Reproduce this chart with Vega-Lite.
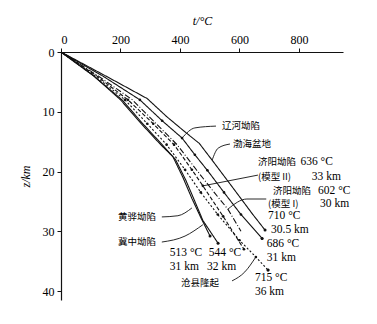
{
  "$schema": "https://vega.github.io/schema/vega-lite/v6.json",
  "autosize": {"type": "none"},
  "padding": {"left": 61, "top": 52, "right": 34, "bottom": 24},
  "width": 282,
  "height": 248,
  "background": "white",
  "config": {
    "view": {"stroke": null},
    "font": "Liberation Serif",
    "axis": {"grid": false, "domainColor": "#111", "tickColor": "#111", "labelColor": "#000", "titleColor": "#000", "labelFont": "Liberation Serif", "titleFont": "Liberation Serif", "labelFontSize": 12, "titleFontSize": 12, "titleFontWeight": "normal", "domainWidth": 1.2, "tickSize": 4}
  },
  "datasets": {
    "curves": [
      {"s": "渤海盆地", "t": 0, "z": 0}, {"s": "渤海盆地", "t": 150, "z": 4}, {"s": "渤海盆地", "t": 290, "z": 7.8}, {"s": "渤海盆地", "t": 355, "z": 10.8}, {"s": "渤海盆地", "t": 420, "z": 13.5}, {"s": "渤海盆地", "t": 465, "z": 15.3}, {"s": "渤海盆地", "t": 508, "z": 18.1}, {"s": "渤海盆地", "t": 570, "z": 22.2}, {"s": "渤海盆地", "t": 645, "z": 27.2}, {"s": "渤海盆地", "t": 686, "z": 29.8},
      {"s": "辽河坳陷", "t": 0, "z": 0}, {"s": "辽河坳陷", "t": 140, "z": 4}, {"s": "辽河坳陷", "t": 265, "z": 8}, {"s": "辽河坳陷", "t": 340, "z": 11.5}, {"s": "辽河坳陷", "t": 407, "z": 14.4}, {"s": "辽河坳陷", "t": 450, "z": 17.2}, {"s": "辽河坳陷", "t": 492, "z": 19.8}, {"s": "辽河坳陷", "t": 548, "z": 23.5}, {"s": "辽河坳陷", "t": 605, "z": 27.2}, {"s": "辽河坳陷", "t": 676, "z": 31.2},
      {"s": "济阳坳陷(模型I)", "t": 0, "z": 0}, {"s": "济阳坳陷(模型I)", "t": 125, "z": 4}, {"s": "济阳坳陷(模型I)", "t": 240, "z": 8}, {"s": "济阳坳陷(模型I)", "t": 320, "z": 12}, {"s": "济阳坳陷(模型I)", "t": 390, "z": 15.5}, {"s": "济阳坳陷(模型I)", "t": 455, "z": 19.7}, {"s": "济阳坳陷(模型I)", "t": 515, "z": 23.5}, {"s": "济阳坳陷(模型I)", "t": 561, "z": 26.3}, {"s": "济阳坳陷(模型I)", "t": 605, "z": 30},
      {"s": "济阳坳陷(模型II)", "t": 0, "z": 0}, {"s": "济阳坳陷(模型II)", "t": 120, "z": 4}, {"s": "济阳坳陷(模型II)", "t": 225, "z": 8}, {"s": "济阳坳陷(模型II)", "t": 310, "z": 12}, {"s": "济阳坳陷(模型II)", "t": 380, "z": 15.5}, {"s": "济阳坳陷(模型II)", "t": 440, "z": 19.7}, {"s": "济阳坳陷(模型II)", "t": 477, "z": 22.4}, {"s": "济阳坳陷(模型II)", "t": 545, "z": 27.5}, {"s": "济阳坳陷(模型II)", "t": 615, "z": 33},
      {"s": "沧县隆起", "t": 0, "z": 0}, {"s": "沧县隆起", "t": 115, "z": 4}, {"s": "沧县隆起", "t": 215, "z": 8}, {"s": "沧县隆起", "t": 290, "z": 12}, {"s": "沧县隆起", "t": 355, "z": 15.5}, {"s": "沧县隆起", "t": 417, "z": 19.7}, {"s": "沧县隆起", "t": 470, "z": 23.5}, {"s": "沧县隆起", "t": 527, "z": 27.2}, {"s": "沧县隆起", "t": 600, "z": 31.5}, {"s": "沧县隆起", "t": 655, "z": 34.3}, {"s": "沧县隆起", "t": 696, "z": 36.5},
      {"s": "黄骅坳陷", "t": 0, "z": 0}, {"s": "黄骅坳陷", "t": 110, "z": 4}, {"s": "黄骅坳陷", "t": 200, "z": 8}, {"s": "黄骅坳陷", "t": 270, "z": 12}, {"s": "黄骅坳陷", "t": 335, "z": 15.5}, {"s": "黄骅坳陷", "t": 376, "z": 17.5}, {"s": "黄骅坳陷", "t": 410, "z": 21}, {"s": "黄骅坳陷", "t": 440, "z": 24.5}, {"s": "黄骅坳陷", "t": 470, "z": 27.7}, {"s": "黄骅坳陷", "t": 501, "z": 30.8},
      {"s": "冀中坳陷", "t": 0, "z": 0}, {"s": "冀中坳陷", "t": 110, "z": 4}, {"s": "冀中坳陷", "t": 205, "z": 8}, {"s": "冀中坳陷", "t": 275, "z": 12}, {"s": "冀中坳陷", "t": 340, "z": 15.5}, {"s": "冀中坳陷", "t": 385, "z": 18}, {"s": "冀中坳陷", "t": 420, "z": 21.5}, {"s": "冀中坳陷", "t": 450, "z": 25}, {"s": "冀中坳陷", "t": 477, "z": 28.2}, {"s": "冀中坳陷", "t": 528, "z": 32}
    ],
    "ends": [
      {"s": "渤海盆地", "t": 686, "z": 29.8},
      {"s": "辽河坳陷", "t": 676, "z": 31.2},
      {"s": "沧县隆起", "t": 696, "z": 36.5},
      {"s": "冀中坳陷", "t": 528, "z": 32},
      {"s": "黄骅坳陷", "t": 501, "z": 30.8}
    ],
    "leaders": [
      {"id": "a", "i": 1, "t": 521, "z": 12.4}, {"id": "a", "i": 2, "t": 450, "z": 12.7}, {"id": "a", "i": 3, "t": 407, "z": 14.4},
      {"id": "b", "i": 1, "t": 568, "z": 15.4}, {"id": "b", "i": 2, "t": 528, "z": 16.1}, {"id": "b", "i": 3, "t": 508, "z": 18.1},
      {"id": "c", "i": 1, "t": 662, "z": 20.6}, {"id": "c", "i": 2, "t": 477, "z": 22.4},
      {"id": "d", "i": 1, "t": 690, "z": 24.6}, {"id": "d", "i": 2, "t": 625, "z": 24.6}, {"id": "d", "i": 3, "t": 561, "z": 26.3},
      {"id": "e", "i": 1, "t": 339, "z": 27.6}, {"id": "e", "i": 2, "t": 393, "z": 27.4}, {"id": "e", "i": 3, "t": 440, "z": 26.1},
      {"id": "f", "i": 1, "t": 339, "z": 31.8}, {"id": "f", "i": 2, "t": 417, "z": 30.8}, {"id": "f", "i": 3, "t": 477, "z": 28.9},
      {"id": "g", "i": 1, "t": 575, "z": 38.3}, {"id": "g", "i": 2, "t": 618, "z": 36.8}, {"id": "g", "i": 3, "t": 655, "z": 34.3}
    ],
    "cjk": [
      {"txt": "辽河坳陷", "t": 541, "z": 12.4},
      {"txt": "渤海盆地", "t": 578, "z": 15.4},
      {"txt": "济阳坳陷", "t": 662, "z": 18.4},
      {"txt": "(模型 II)", "t": 662, "z": 20.9},
      {"txt": "济阳坳陷", "t": 713, "z": 23.2},
      {"txt": "(模型 I)", "t": 696, "z": 25.5},
      {"txt": "沧县隆起", "t": 403, "z": 38.6},
      {"txt": "冀中坳陷", "t": 192, "z": 31.8},
      {"txt": "黄骅坳陷", "t": 192, "z": 27.6}
    ],
    "nums": [
      {"txt": "636 °C", "t": 805, "z": 18.4},
      {"txt": "33 km", "t": 843, "z": 20.9},
      {"txt": "602 °C", "t": 864, "z": 23.2},
      {"txt": "30 km", "t": 871, "z": 25.5},
      {"txt": "710 °C", "t": 696, "z": 27.5},
      {"txt": "30.5 km", "t": 706, "z": 29.8},
      {"txt": "686 °C", "t": 692, "z": 32.1},
      {"txt": "31 km", "t": 692, "z": 34.5},
      {"txt": "715 °C", "t": 652, "z": 37.8},
      {"txt": "36 km", "t": 652, "z": 40.1},
      {"txt": "513 °C", "t": 366, "z": 33.6},
      {"txt": "544 °C", "t": 497, "z": 33.6},
      {"txt": "31 km", "t": 366, "z": 36},
      {"txt": "32 km", "t": 491, "z": 36}
    ]
  },
  "layer": [
    {
      "data": {"name": "curves"},
      "mark": {"type": "line", "color": "#111", "strokeWidth": 1.1},
      "encoding": {
        "x": {"field": "t", "type": "quantitative", "scale": {"domain": [0, 948], "nice": false}, "axis": {"orient": "top", "values": [0, 200, 400, 600, 800], "title": "t/°C", "titleFontStyle": "italic", "labelPadding": 2, "titlePadding": 6}},
        "y": {"field": "z", "type": "quantitative", "scale": {"domain": [0, 41.5], "reverse": true, "nice": false, "zero": false}, "axis": {"values": [0, 10, 20, 30, 40], "title": "z/km", "titleFontStyle": "italic", "labelPadding": 3, "titlePadding": 10}},
        "detail": {"field": "s"},
        "order": {"field": "z", "type": "quantitative"},
        "strokeDash": {"field": "s", "type": "nominal", "legend": null, "scale": {"domain": ["渤海盆地", "辽河坳陷", "济阳坳陷(模型I)", "济阳坳陷(模型II)", "沧县隆起", "黄骅坳陷", "冀中坳陷"], "range": [[1, 0], [1, 0], [6, 2, 1, 2], [4, 2], [2, 2], [1, 0], [1, 0]]}}
      }
    },
    {
      "data": {"name": "curves"},
      "transform": [{"filter": "datum.z > 5 && (datum.s == '辽河坳陷' || datum.s == '沧县隆起' || datum.s == '济阳坳陷(模型II)')"}],
      "mark": {"type": "circle", "color": "#111", "size": 7, "opacity": 1},
      "encoding": {
        "x": {"field": "t", "type": "quantitative"},
        "y": {"field": "z", "type": "quantitative"}
      }
    },
    {
      "data": {"name": "ends"},
      "mark": {"type": "circle", "color": "#111", "size": 9, "opacity": 1},
      "encoding": {
        "x": {"field": "t", "type": "quantitative"},
        "y": {"field": "z", "type": "quantitative"}
      }
    },
    {
      "data": {"name": "leaders"},
      "mark": {"type": "line", "color": "#111", "strokeWidth": 0.9, "interpolate": "monotone"},
      "encoding": {
        "x": {"field": "t", "type": "quantitative"},
        "y": {"field": "z", "type": "quantitative"},
        "detail": {"field": "id"},
        "order": {"field": "i", "type": "quantitative"}
      }
    },
    {
      "data": {"name": "cjk"},
      "mark": {"type": "text", "align": "left", "baseline": "middle", "font": "Noto Sans CJK SC", "fontSize": 9.5, "color": "#000"},
      "encoding": {
        "x": {"field": "t", "type": "quantitative"},
        "y": {"field": "z", "type": "quantitative"},
        "text": {"field": "txt"}
      }
    },
    {
      "data": {"name": "nums"},
      "mark": {"type": "text", "align": "left", "baseline": "middle", "font": "Liberation Serif", "fontSize": 11.5, "color": "#000"},
      "encoding": {
        "x": {"field": "t", "type": "quantitative"},
        "y": {"field": "z", "type": "quantitative"},
        "text": {"field": "txt"}
      }
    }
  ]
}
